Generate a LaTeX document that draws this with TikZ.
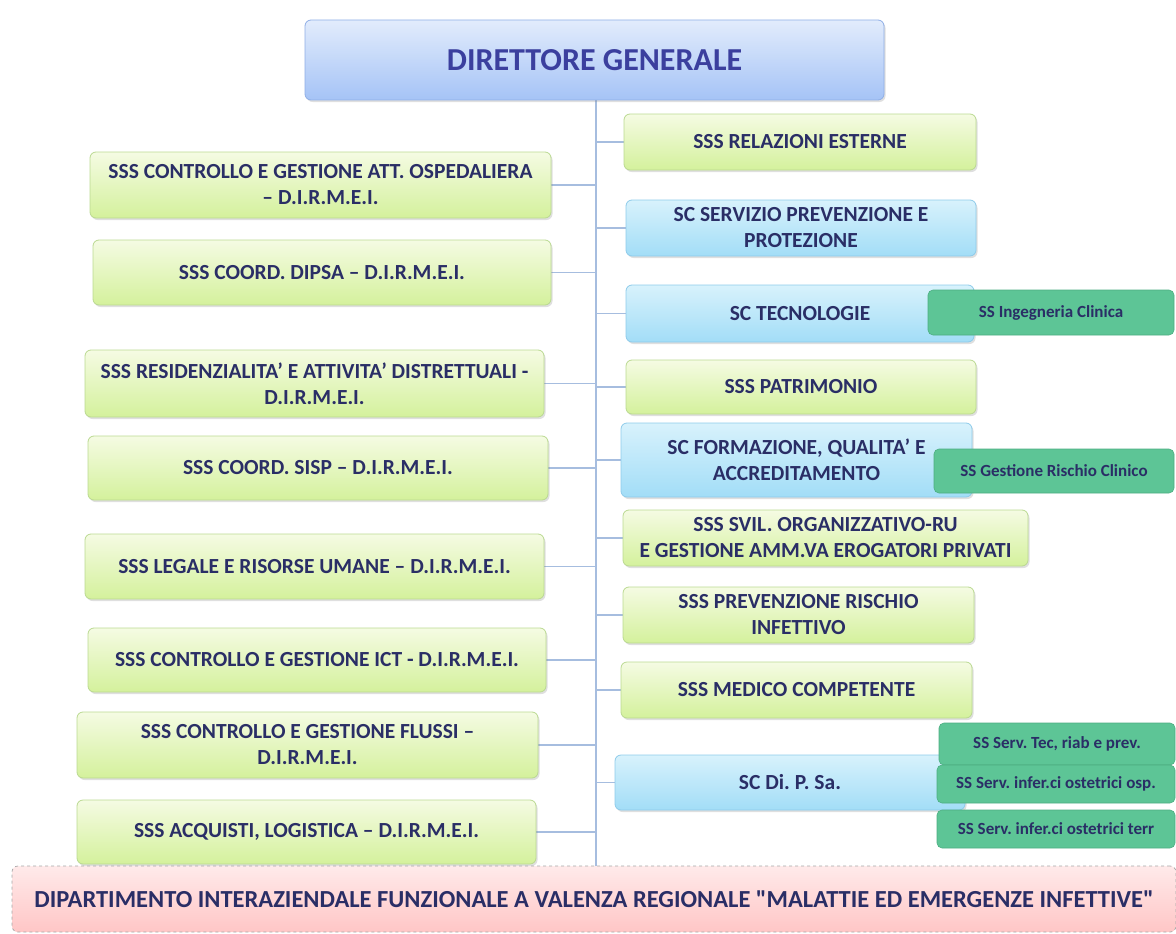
\documentclass[tikz,border=0pt]{standalone}
\usepackage{fontspec}
\setmainfont{Carlito}
\usetikzlibrary{shadows, backgrounds}
\frenchspacing

\definecolor{navy}{HTML}{2A2E66}
\definecolor{dgtext}{HTML}{3B3F9E}
\definecolor{trunk}{HTML}{A6BDDF}
\definecolor{greentop}{HTML}{F5FBE3}
\definecolor{greenbot}{HTML}{D4F19C}
\definecolor{greenline}{HTML}{BAD991}
\definecolor{bluetop}{HTML}{D8F2FC}
\definecolor{bluebot}{HTML}{A2DDF7}
\definecolor{blueline}{HTML}{8ECBEA}
\definecolor{dgtop}{HTML}{E2ECFC}
\definecolor{dgbot}{HTML}{A5C3F6}
\definecolor{dgline}{HTML}{8FAEE6}
\definecolor{ssfill}{HTML}{5DC596}
\definecolor{ssline}{HTML}{4CAE82}
\definecolor{pinktop}{HTML}{FFEAEA}
\definecolor{pinkbot}{HTML}{FFC6C6}

\begin{document}
\begin{tikzpicture}[
    x = 1pt, y = -1pt,
    wh/.style 2 args = {minimum width = #1pt, minimum height = #2pt, inner sep = 0pt},
    box/.style = {draw, rounded corners = 6pt, align = center, line width = 0.8pt,
      text = navy, font = \bfseries\fontsize{21.5}{26}\selectfont,
      drop shadow = {opacity = 0.25, shadow xshift = 1.5pt, shadow yshift = -2pt}},
    sss/.style = {box, draw = greenline, top color = greentop, bottom color = greenbot},
    sc/.style = {box, draw = blueline, top color = bluetop, bottom color = bluebot},
    ss/.style = {draw = ssline, fill = ssfill, rounded corners = 5pt, line width = 0.6pt,
      text = navy, font = \bfseries\fontsize{17}{20}\selectfont},
    conn/.style = {draw = trunk, line width = 1.6pt}
  ]
  \useasboundingbox (0,0) rectangle (1176,934);

  % Top
  \node[box, wh = {579}{80}, draw = dgline, top color = dgtop, bottom color = dgbot,
    text = dgtext, font = \bfseries\fontsize{32}{36}\selectfont]
    (DG) at (594.5,60) {DIRETTORE GENERALE};

  % Left column
  \node[sss, wh = {461}{66}] (L1) at (320.5,185) {SSS CONTROLLO E GESTIONE ATT. OSPEDALIERA\\– D.I.R.M.E.I.};
  \node[sss, wh = {458}{65}] (L2) at (322,272.5) {SSS COORD. DIPSA – D.I.R.M.E.I.};
  \node[sss, wh = {459}{67}] (L3) at (314.5,383.5) {SSS RESIDENZIALITA’ E ATTIVITA’ DISTRETTUALI -\\D.I.R.M.E.I.};
  \node[sss, wh = {460}{64}] (L4) at (318,468) {SSS COORD. SISP – D.I.R.M.E.I.};
  \node[sss, wh = {459}{65}] (L5) at (314.5,566.5) {SSS LEGALE E RISORSE UMANE – D.I.R.M.E.I.};
  \node[sss, wh = {458}{64}] (L6) at (317,660) {SSS CONTROLLO E GESTIONE ICT - D.I.R.M.E.I.};
  \node[sss, wh = {461}{66}] (L7) at (307.5,745) {SSS CONTROLLO E GESTIONE FLUSSI –\\D.I.R.M.E.I.};
  \node[sss, wh = {459}{64}] (L8) at (306.5,832) {SSS ACQUISTI, LOGISTICA – D.I.R.M.E.I.};

  % Right column
  \node[sss, wh = {352}{56}] (R1) at (800,142) {SSS RELAZIONI ESTERNE};
  \node[sc,  wh = {350}{56}] (R2) at (801,228) {SC SERVIZIO PREVENZIONE E\\PROTEZIONE};
  \node[sc,  wh = {348}{57}] (R3) at (800,313.5) {SC TECNOLOGIE};
  \node[sss, wh = {350}{54}] (R4) at (801,387) {SSS PATRIMONIO};
  \node[sc,  wh = {351}{74}] (R5) at (796.5,460) {SC FORMAZIONE, QUALITA’ E\\ACCREDITAMENTO};
  \node[sss, wh = {405}{56}] (R6) at (825.5,538) {SSS SVIL. ORGANIZZATIVO-RU\\E GESTIONE AMM.VA EROGATORI PRIVATI};
  \node[sss, wh = {351}{56}] (R7) at (798.5,615) {SSS PREVENZIONE RISCHIO\\INFETTIVO};
  \node[sss, wh = {351}{56}] (R8) at (796.5,690) {SSS MEDICO COMPETENTE};
  \node[sc,  wh = {350}{55}] (R9) at (790,782.5) {SC Di. P. Sa.};

  % Sub units
  \node[ss, wh = {246}{45}] (S1) at (1051,312.5) {SS Ingegneria Clinica};
  \node[ss, wh = {240}{44}] (S2) at (1054,471) {SS Gestione Rischio Clinico};
  \node[ss, wh = {236}{42}] (S3) at (1057,744) {SS Serv. Tec, riab e prev.};
  \node[ss, wh = {238}{38}] (S4) at (1056,784) {SS Serv. infer.ci ostetrici osp.};
  \node[ss, wh = {238}{38}] (S5) at (1056,829) {SS Serv. infer.ci ostetrici terr};

  % Bottom
  \node[draw = gray!70, dashed, rounded corners = 6pt, line width = 0.7pt, wh = {1164}{66},
    top color = pinktop, bottom color = pinkbot, text = navy,
    font = \bfseries\fontsize{24.5}{28}\selectfont]
    (DIP) at (594,899) {DIPARTIMENTO INTERAZIENDALE FUNZIONALE A VALENZA REGIONALE \textquotedbl MALATTIE ED EMERGENZE INFETTIVE\textquotedbl};

  \coordinate (T) at (596,866);

  % Connectors
  \begin{scope}[on background layer]
    \draw[conn] (DG.south -| T) -- (T);
    \foreach \n in {L1,L2,L3,L4,L5,L6,L7,L8}
      \draw[conn] (\n.east) -- (\n.east -| T);
    \foreach \n in {R1,R2,R3,R4,R5,R6,R7,R8,R9}
      \draw[conn] (\n.west) -- (\n.west -| T);
  \end{scope}

\end{tikzpicture}
\end{document}
